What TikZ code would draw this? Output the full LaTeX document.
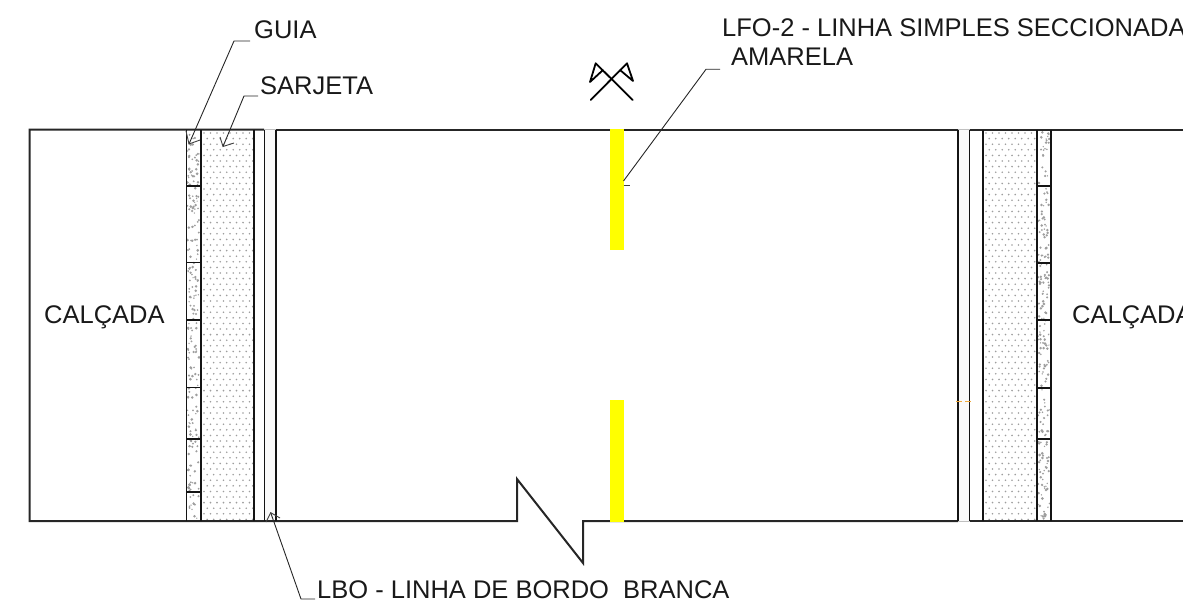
\documentclass[tikz,border=0pt]{standalone}
\usepackage{fontspec}
\setmainfont{Liberation Sans}
\definecolor{dotgray}{gray}{0.62}
\definecolor{liney}{RGB}{255,255,0}
\definecolor{tickorange}{RGB}{240,170,60}
\begin{document}
\begin{tikzpicture}[x=1pt,y=-1pt,
  wall/.style={line width=2pt,black!85},
  thin wall/.style={line width=1.9pt,black!92},
  leader/.style={line width=0.9pt,black!85},
  barb/.style={line width=0.9pt,black!75},
  label/.style={font=\fontsize{25.5}{25.5}\selectfont,anchor=base west,inner sep=0pt,text=black!90},
  dashbar/.style={fill=liney,draw=none}]
\useasboundingbox (0,0) rectangle (1183,602);
% pale edge-line strips
\fill[black!2] (265,130) rectangle (276,521);
\fill[black!2] (958,130) rectangle (969.5,521);
% stipple of the gutters
\foreach \xo in {201,983}{
  \foreach \r in {0,...,69}{
    \pgfmathsetmacro{\yy}{133+\r*5.6}
    \pgfmathsetmacro{\sh}{mod(\r,2)*3.2}
    \foreach \c in {0,...,7}{
      \fill[dotgray] ({\xo+3+\sh+\c*6.5},\yy) circle (0.9pt);
    }
  }
}
% speckle of the kerbs
\pgfmathsetseed{7}
\foreach \xo in {187.5,1038}{
  \foreach \i in {1,...,210}{
    \pgfmathsetmacro{\px}{\xo+rnd*11.5}
    \pgfmathsetmacro{\py}{132+rnd*387}
    \fill[dotgray] (\px,\py) circle ({0.7+rnd*0.8});
  }
}
% outline
\draw[wall] (264,129.5) -- (29.5,129.5) -- (29.5,521) -- (517,521) -- (517,479) -- (583,563) -- (583,521) -- (958,521);
\draw[wall] (276,129.5) -- (958,129.5);
\draw[wall] (969.5,129.5) -- (1183,129.5);
\draw[wall] (969.5,521) -- (1183,521);
\draw[black!25,line width=1pt] (264,129.5) -- (276,129.5);
\draw[black!25,line width=1pt] (958,129.5) -- (969.5,129.5);
\draw[black!25,line width=1pt] (958,521) -- (969.5,521);
% yellow centre line
\path[dashbar] (610,128.5) rectangle (623.5,249.5);
\path[dashbar] (610,400) rectangle (623.5,522);
% verticals
\foreach \x in {186.5,201,254,264.5,275.7,958,969.5,983,1036.7,1050.7}{
  \draw[thin wall] (\x,129.5) -- (\x,521);
}
% kerb joints
\foreach \y in {186,262.5,320,387.5,439,492}{
  \draw[thin wall] (186.5,\y) -- (201,\y);
}
\foreach \y in {186,263,320,388,439}{
  \draw[thin wall] (1036.7,\y) -- (1050.7,\y);
}
% orange tick
\draw[tickorange,line width=1pt,dash pattern=on 6pt off 3pt] (956,401) -- (971,401);
% crossed flags symbol
\draw[line width=1.8pt,black,line join=round,line cap=round]
  (590.7,100) -- (627,63.3) -- (633,81) -- (620,70);
\draw[line width=1.8pt,black,line join=round,line cap=round]
  (632.7,100) -- (595.7,63.3) -- (590,82) -- (603,70);
% labels
\node[label] (guia) at (254,39) {GUIA};
\node[label] (sarjeta) at (260,94) {SARJETA};
\node[label] (lfo) at (722,37) {LFO-2 - LINHA SIMPLES SECCIONADA};
\node[label] (amarela) at (731,66) {AMARELA};
\node[label] (calc1) at (44,323) {CALÇADA};
\node[label] (calc2) at (1072,323) {CALÇADA};
\node[label] (lbo) at (317,598) {LBO - LINHA DE BORDO\ \ BRANCA};
% leaders
\coordinate (g0) at (250,41); \coordinate (g1) at (234,41); \coordinate (g2) at (189,144);
\draw[leader] (g0) -- (g1) -- (g2);
\draw[barb] (200,140) -- (g2) -- (186,131);
\coordinate (s0) at (258,96); \coordinate (s1) at (244,96); \coordinate (s2) at (223,146.5);
\draw[leader] (s0) -- (s1) -- (s2);
\draw[barb] (234,143) -- (s2) -- (220,137);
\coordinate (a0) at (720,69.3); \coordinate (a1) at (706,69.3); \coordinate (a2) at (623.5,181);
\draw[leader] (a0) -- (a1) -- (a2);
\draw[barb] (623.5,185) -- (630,185);
\coordinate (b0) at (315,599); \coordinate (b1) at (301,599); \coordinate (b2) at (270.7,512.7);
\draw[leader] (b0) -- (b1) -- (b2);
\draw[barb] (266,522) -- (b2) -- (280,518);
\end{tikzpicture}
\end{document}
